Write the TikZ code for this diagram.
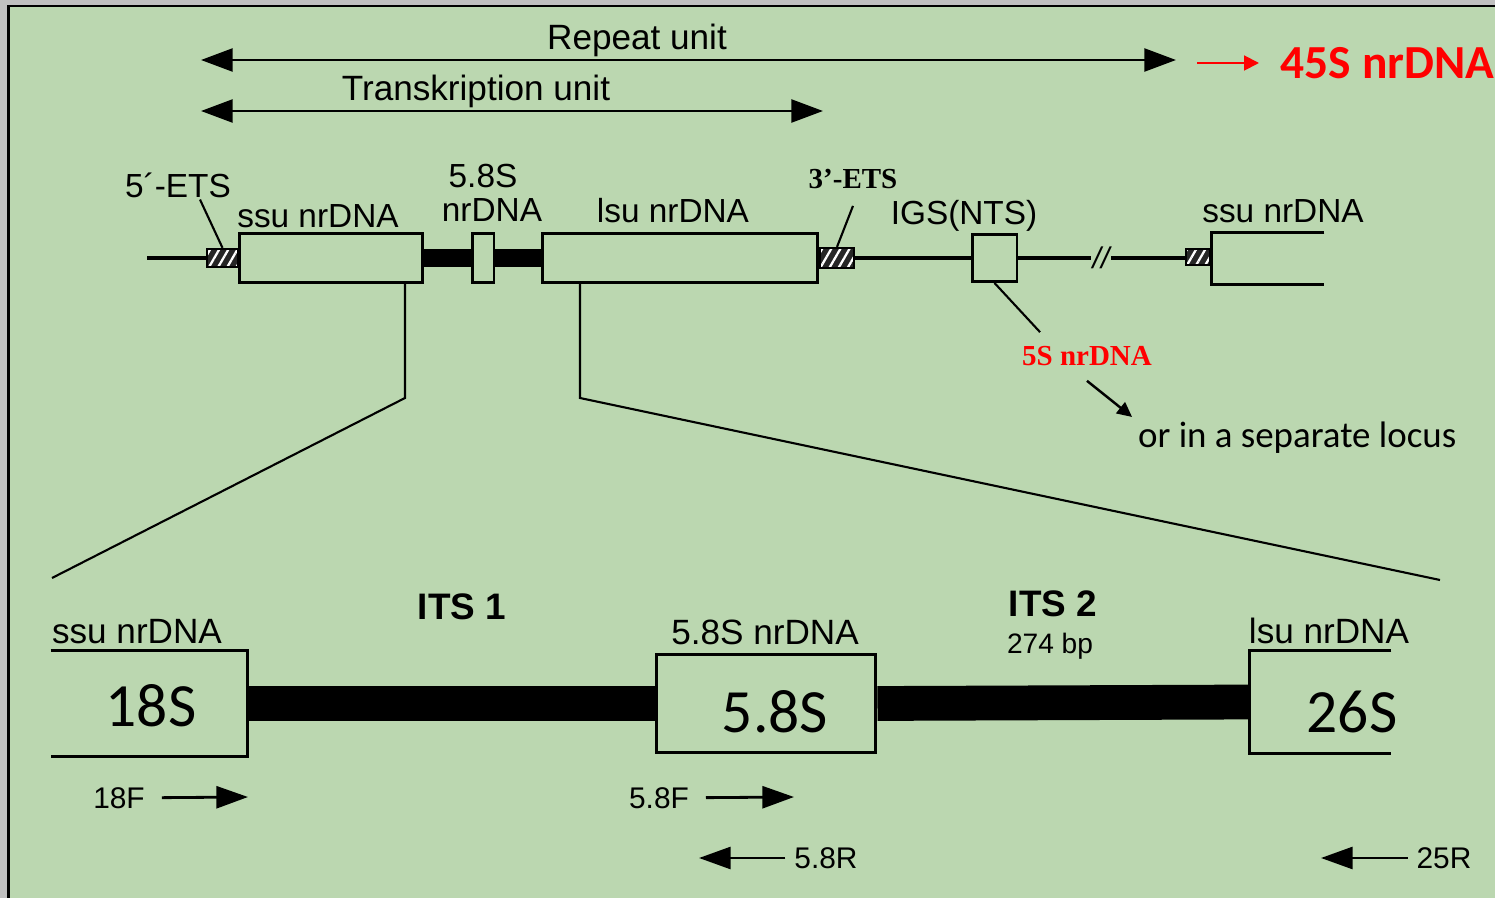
\documentclass[tikz,border=0pt]{standalone}
\usepackage{fontspec}
\setmainfont{Liberation Sans}
\newfontfamily\calfont{Carlito}
\newfontfamily\romfont{Liberation Serif}
\usetikzlibrary{arrows.meta,patterns.meta}
\definecolor{panel}{RGB}{187,215,176}
\definecolor{rim}{RGB}{192,192,192}
\definecolor{hot}{RGB}{255,0,0}
\begin{document}
\begin{tikzpicture}[x=0.02cm, y=-0.02cm,
  box/.style={draw, line width=1.7pt, fill=panel, inner sep=0pt, minimum height=0.98cm},
  ets/.style={draw, line width=1.2pt, inner sep=0pt, preaction={fill=black!85},
    pattern={Lines[angle=60, distance=4.5pt, line width=1.3pt]}, pattern color=white},
  halfbox/.style={inner sep=0pt},
  lbl/.style={font=\fontsize{19}{22}\selectfont, inner sep=1pt},
  big/.style={font=\calfont\fontsize{35}{40}\selectfont, inner sep=0pt},
  its/.style={font=\bfseries\fontsize{21}{24}\selectfont, inner sep=1pt},
  tnr/.style={font=\romfont\bfseries\fontsize{16.5}{19}\selectfont, inner sep=1pt},
  dim/.style={{Triangle[length=18pt, width=13pt]}-{Triangle[length=18pt, width=13pt]}, line width=1.6pt},
  prim/.style={-{Triangle[length=18pt, width=12.5pt]}, line width=1.6pt},
  strand/.style={line width=2.6pt},
  spacer/.style={line width=10.5pt},
  itsbar/.style={line width=19.8pt},
  edge/.style={line width=1.7pt},
  lead/.style={line width=1.2pt}]
\useasboundingbox (0,0) rectangle (1495,898);
\clip (0,0) rectangle (1495,898);
\fill[rim] (0,0) rectangle (1495,898);
\filldraw[fill=panel, draw=black, line width=1.5pt] (8.5,6) rectangle (1530,930);
% unit arrows
\coordinate (ru0) at (201,60); \coordinate (ru1) at (1176,60);
\coordinate (tu0) at (201,111); \coordinate (tu1) at (823,111);
\draw[dim] (ru0) -- (ru1);
\draw[dim] (tu0) -- (tu1);
\node[lbl, font=\fontsize{20}{24}\selectfont] (rep) at (637,40) {Repeat unit};
\node[lbl, font=\fontsize{20}{24}\selectfont] (trs) at (476,91) {Transkription unit};
\coordinate (hs) at (1197,63);
\node[font=\calfont\bfseries\fontsize{27}{32}\selectfont, text=hot, anchor=west, inner sep=2pt] (s45) at (1277,63) {45S nrDNA};
\draw[hot, line width=1.1pt, -{Triangle[length=8.5pt, width=8.5pt]}, shorten >=0.36cm] (hs) -- (s45);
% repeat, middle row
\coordinate (lend) at (147,258);
\node[ets, minimum width=0.62cm, minimum height=0.36cm] (e5) at (222.5,258) {};
\node[box, minimum width=3.68cm] (ssu) at (331,258) {};
\node[box, minimum width=0.44cm] (m58) at (483,258) {};
\node[box, minimum width=5.52cm] (lsu) at (680,258) {};
\node[ets, minimum width=0.68cm, minimum height=0.4cm] (e3) at (837,258) {};
\node[box, minimum width=0.9cm, minimum height=0.94cm] (igs) at (994.5,258) {};
\node[lbl, font=\fontsize{17}{20}\selectfont\itshape] (sl) at (1101,258) {//};
\node[ets, minimum width=0.48cm, minimum height=0.32cm] (e5b) at (1198,257) {};
\node[halfbox, minimum width=2.24cm, minimum height=1.02cm] (ssu2) at (1268,258.5) {};
\draw[strand] (lend) -- (e5.west);
\draw[spacer] (ssu.east) -- (m58.west);
\draw[spacer] (m58.east) -- (lsu.west);
\draw[strand] (e3.east) -- (igs.west);
\draw[strand] (igs.east) -- (igs.east -| sl.west);
\draw[strand] (sl.east) -- (sl.east -| e5b.west);
\draw[edge] (ssu2.north east) -- (ssu2.north west) -- (ssu2.south west) -- (ssu2.south east);
\node[lbl] (l5ets) at (178,185) {5´-ETS};
\node[lbl] (lssu) at (318,216) {ssu nrDNA};
\node[lbl] (l58a) at (483,176) {5.8S};
\node[lbl] (l58b) at (492,210) {nrDNA};
\node[lbl] (llsu) at (673,211) {lsu nrDNA};
\node[tnr] (l3ets) at (853,179) {3’-ETS};
\node[lbl] (ligs) at (964,216) {IGS(NTS)};
\node[lbl] (lssu2) at (1283,211) {ssu nrDNA};
\draw[lead] ([xshift=0.44cm]l5ets.south) -- (e5.north);
\draw[lead] ([yshift=-0.3cm]l3ets.south) -- (e3.north);
% 5S
\node[tnr, text=hot] (l5s) at (1087,356) {5S nrDNA};
\node[font=\calfont\fontsize{21}{25}\selectfont, anchor=west, inner sep=1pt] (locus) at (1136,438) {or in a separate locus};
\draw[lead] (igs.south) -- ([shift={(0.4cm,0.24cm)}]l5s.north west);
\draw[lead, line width=1.4pt, -{Triangle[length=8.5pt, width=8pt]}, shorten >=0.1cm] ([yshift=-0.26cm]l5s.south) -- (locus.north west);
% zoom to ITS region
\coordinate (kl) at (405,398); \coordinate (kl2) at (52,578);
\coordinate (kr) at (580,398); \coordinate (kr2) at (1440,580);
\draw[lead] (kl |- ssu.south) -- (kl) -- (kl2);
\draw[lead] (kr |- lsu.south) -- (kr) -- (kr2);
% ITS region
\node[halfbox, minimum width=3.92cm, minimum height=2.1cm] (b18) at (149,703.5) {};
\node[box, minimum width=4.4cm, minimum height=1.98cm] (b58) at (766,703.5) {};
\node[halfbox, minimum width=2.82cm, minimum height=2.04cm] (b26) at (1320.5,702) {};
\draw[itsbar] (b18.east) -- (b58.west);
\draw[itsbar] (b58.east) -- (b26.west);
\draw[edge] (b18.north west) -- (b18.north east) -- (b18.south east) -- (b18.south west);
\draw[edge] (b26.north east) -- (b26.north west) -- (b26.south west) -- (b26.south east);
\node[big] (t18) at (151,706) {18S};
\node[big] (t58) at (775,712) {5.8S};
\node[big] (t26) at (1352,712) {26S};
\node[lbl, font=\fontsize{20}{24}\selectfont] (lb18) at (137,632) {ssu nrDNA};
\node[lbl, font=\fontsize{20}{24}\selectfont] (lb58) at (765,632) {5.8S nrDNA};
\node[lbl, font=\fontsize{20}{24}\selectfont] (lb26) at (1329,631) {lsu nrDNA};
\node[its] (its1) at (462,607) {ITS 1};
\node[its] (its2) at (1053,604) {ITS 2};
\node[lbl, font=\fontsize{16}{19}\selectfont] (bp) at (1050,646) {274 bp};
% primers
\coordinate (f18e) at (248,797); \coordinate (f58e) at (794,797);
\coordinate (r58e) at (699,858); \coordinate (r25e) at (1321,858);
\node[lbl, font=\fontsize{17}{20}\selectfont] (f18) at (119,798) {18F};
\node[lbl, font=\fontsize{17}{20}\selectfont] (f58) at (659,798) {5.8F};
\node[lbl, font=\fontsize{17}{20}\selectfont] (r58) at (826,858) {5.8R};
\node[lbl, font=\fontsize{17}{20}\selectfont] (r25) at (1444,858) {25R};
\draw[prim, shorten <=0.3cm] (f18) -- (f18e);
\draw[prim, shorten <=0.3cm] (f58) -- (f58e);
\draw[prim, shorten <=0.14cm] (r58) -- (r58e);
\draw[prim, shorten <=0.14cm] (r25) -- (r25e);
\end{tikzpicture}
\end{document}
